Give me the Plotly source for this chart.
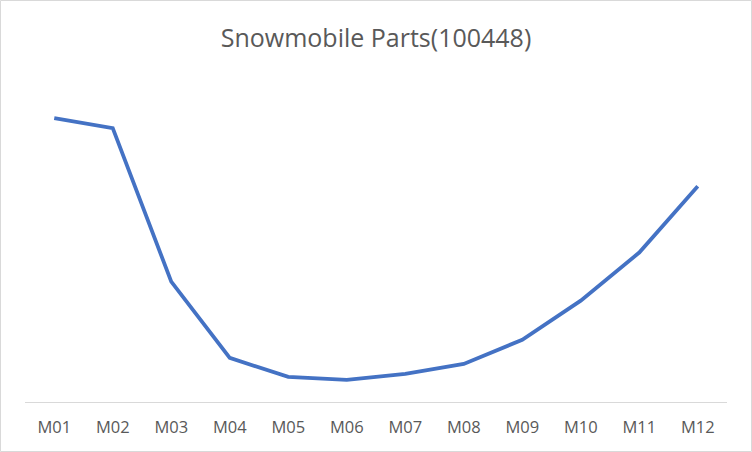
import plotly.graph_objects as go

months = ["M01", "M02", "M03", "M04", "M05", "M06", "M07", "M08", "M09", "M10", "M11", "M12"]
values = [283, 273, 120, 44, 25, 22, 28, 38, 62, 101, 149, 215]

W, H = 752, 452
ml, mr, mt, mb = 25, 25, 70, 50
pw = W - ml - mr
ph = H - mt - mb

fig = go.Figure()
fig.add_trace(go.Scatter(
    x=months, y=values, mode="lines",
    line=dict(color="#4472C4", width=3.8),
    hoverinfo="x+y",
))

fig.update_layout(
    width=W, height=H,
    margin=dict(l=ml, r=mr, t=mt, b=mb),
    paper_bgcolor="white", plot_bgcolor="white",
    showlegend=False,
    title=dict(text="Snowmobile Parts(100448)", x=0.5, xanchor="center",
               y=1 - 38 / H, yanchor="middle",
               font=dict(family="Open Sans, Noto Sans, sans-serif", size=25, color="#595959")),
    xaxis=dict(
        type="category", range=[-0.5, 11.5],
        showline=True, linecolor="#d9d9d9", linewidth=1,
        showgrid=False, zeroline=False, ticks="",
        tickfont=dict(family="Open Sans, Noto Sans, sans-serif", size=16.5, color="#595959"),
        ticklabelstandoff=10,
    ),
    yaxis=dict(
        range=[0, 331], visible=False, showgrid=False, zeroline=False,
    ),
    shapes=[dict(
        type="rect", xref="paper", yref="paper",
        x0=(-ml + 0.5) / pw, x1=1 + (mr - 0.5) / pw,
        y0=(-mb + 0.5) / ph, y1=1 + (mt - 0.5) / ph,
        line=dict(color="#d9d9d9", width=1), fillcolor="rgba(0,0,0,0)",
        layer="below",
    )],
)

fig.write_html("out.html", config={"displayModeBar": False},
               post_script="document.body.style.margin='0';")
